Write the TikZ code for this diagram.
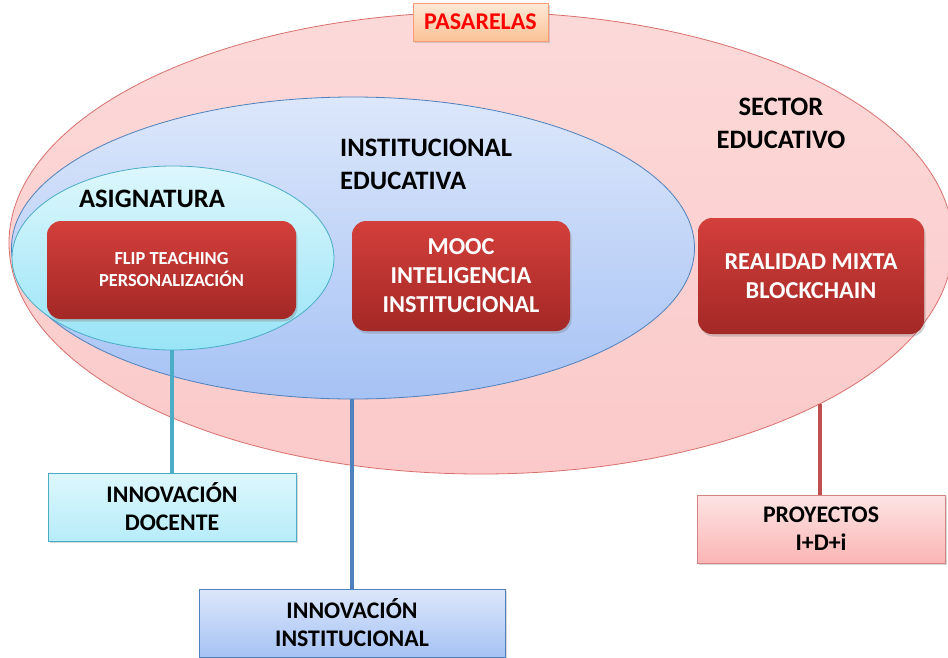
\documentclass[tikz,border=0pt]{standalone}
\usepackage{fontspec}
\setmainfont{Carlito}
\usetikzlibrary{shapes.geometric,shadows}
\definecolor{pinkfill}{HTML}{FBC9C9}
\definecolor{pinkdraw}{HTML}{D8706E}
\definecolor{bluetop}{HTML}{DCE7FB}
\definecolor{bluebot}{HTML}{A6C2F4}
\definecolor{bluedraw}{HTML}{4F81BD}
\definecolor{cyantop}{HTML}{DDF7FC}
\definecolor{cyanbot}{HTML}{98E4F7}
\definecolor{cyandraw}{HTML}{4BACC6}
\definecolor{redtop}{HTML}{D33F3B}
\definecolor{redbot}{HTML}{A32826}
\definecolor{reddraw}{HTML}{C0504D}
\definecolor{orangetop}{HTML}{FEE9D8}
\definecolor{orangebot}{HTML}{FBC296}
\tikzset{
  redbox/.style={rectangle, rounded corners=14pt, draw=none, top color=redtop, bottom color=redbot,
    text=white, font=\bfseries, align=center, inner sep=0pt,
    drop shadow={shadow xshift=1.5pt, shadow yshift=-2.5pt, opacity=0.35}},
  labbox/.style={rectangle, draw=#1, line width=0.6pt, align=center, inner sep=0pt, text=black,
    drop shadow={shadow xshift=1.5pt, shadow yshift=-2pt, opacity=0.3}},
  conn/.style={line width=3.5pt, draw=#1},
  title/.style={font=\bfseries\fontsize{26.6}{33}\selectfont, text=black, inner sep=0pt}
}
\begin{document}
\begin{tikzpicture}[x=1pt,y=-1pt]
\useasboundingbox (0,0) rectangle (948,657);
\clip (0,0) rectangle (948,657);
\fill[white] (0,0) rectangle (948,657);
% ellipses
\node[ellipse, draw=pinkdraw, line width=0.8pt, top color=pinkfill!70, bottom color=pinkfill,
  minimum width=944pt, minimum height=462pt, inner sep=0pt] (sector) at (481,243) {};
\node[ellipse, draw=bluedraw, line width=0.8pt, top color=bluetop, bottom color=bluebot,
  minimum width=683pt, minimum height=302pt, inner sep=0pt] (inst) at (353,248) {};
\node[ellipse, draw=cyandraw, line width=0.8pt, top color=cyantop, bottom color=cyanbot,
  minimum width=322pt, minimum height=184pt, inner sep=0pt] (asig) at (173,258) {};
% pasarelas
\node[rectangle, draw=orangebot!80!red, line width=0.6pt, top color=orangetop, bottom color=orangebot,
  minimum width=135pt, minimum height=38pt, inner sep=0pt, text=red, font=\bfseries\fontsize{24}{28}\selectfont,
  drop shadow={shadow xshift=1.5pt, shadow yshift=-2pt, opacity=0.3}] (pas) at (480.5,22) {PASARELAS};
% titles
\node[title] (tasig) at (152,199) {ASIGNATURA};
\node[title, align=left, anchor=west] (tinst) at (340,164.5) {INSTITUCIONAL\\EDUCATIVA};
\node[title, align=center] (tsec) at (781,123) {SECTOR\\EDUCATIVO};
% connectors
\coordinate (secfoot) at (820,404);
\node[labbox=cyandraw, top color=cyantop, bottom color=cyanbot!70,
  minimum width=248pt, minimum height=68pt, font=\bfseries\fontsize{23.8}{28}\selectfont] (doc) at (172,507) {INNOVACIÓN\\DOCENTE};
\node[labbox=bluedraw, top color=bluetop, bottom color=bluebot,
  minimum width=306pt, minimum height=68pt, font=\bfseries\fontsize{23.8}{28}\selectfont] (innst) at (352,623) {INNOVACIÓN\\INSTITUCIONAL};
\node[labbox=reddraw!70, top color=pinkfill!50, bottom color=pinkfill!90!red,
  minimum width=248pt, minimum height=68pt, font=\bfseries\fontsize{23.8}{28}\selectfont] (proy) at (821,529) {PROYECTOS\\I+D+i};
\draw[conn=cyandraw] (asig.south -| doc.north) -- (doc.north);
\draw[conn=bluedraw] (inst.south -| innst.north) -- (innst.north);
\draw[conn=reddraw] (secfoot) -- (secfoot |- proy.north);
% red boxes
\node[redbox, minimum width=249pt, minimum height=98pt, font=\bfseries\fontsize{18.4}{22}\selectfont] (flip) at (171.5,270) {FLIP TEACHING\\PERSONALIZACIÓN};
\node[redbox, minimum width=218pt, minimum height=110pt, font=\bfseries\fontsize{24.3}{29}\selectfont] (mooc) at (461,276) {MOOC\\INTELIGENCIA\\INSTITUCIONAL};
\node[redbox, minimum width=226pt, minimum height=116pt, font=\bfseries\fontsize{24.3}{29}\selectfont] (real) at (811,276) {REALIDAD MIXTA\\BLOCKCHAIN};
\end{tikzpicture}
\end{document}
